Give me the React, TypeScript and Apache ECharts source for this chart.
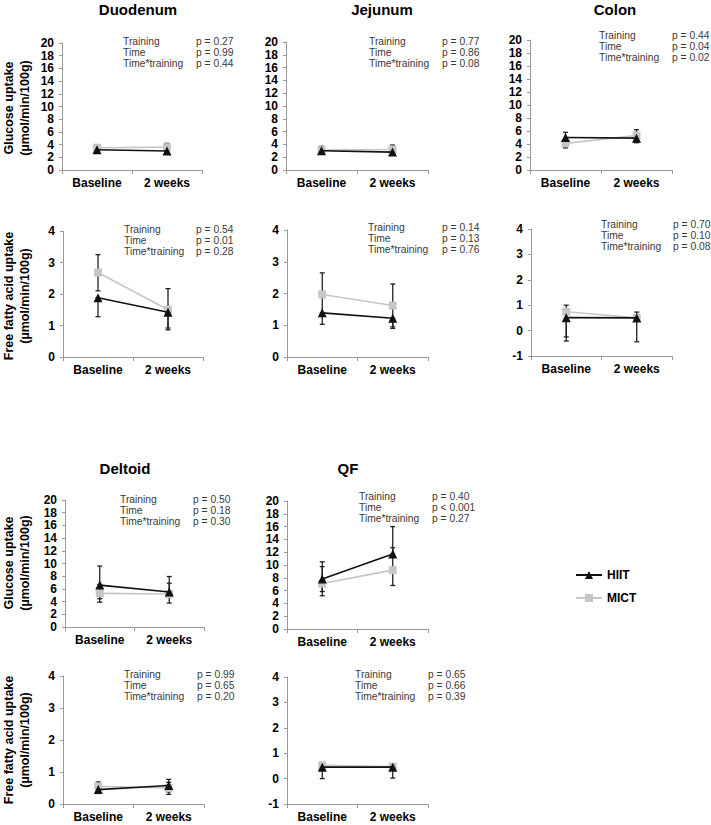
import React, { useEffect, useRef } from "react";
import * as echarts from "echarts";

// ---------- data ----------
const categories = ["Baseline", "2 weeks"];
const effectLabels = ["Training", "Time", "Time*training"];
const seriesNames = ["HIIT", "MICT"];

// Glucose uptake - Duodenum
const duoGluHIIT = [3.2, 3.0];
const duoGluMICT = [3.5, 3.6];
const duoGluHIITErr = [[2.8, 3.6], [2.6, 3.4]];
const duoGluMICTErr = [[3.0, 4.0], [3.0, 4.2]];
const duoGluP = ["p = 0.27", "p = 0.99", "p = 0.44"];

// Glucose uptake - Jejunum
const jejGluHIIT = [3.0, 2.8];
const jejGluMICT = [3.1, 3.2];
const jejGluHIITErr = [[2.5, 3.5], [2.5, 3.1]];
const jejGluMICTErr = [[2.6, 3.7], [2.6, 3.9]];
const jejGluP = ["p = 0.77", "p = 0.86", "p = 0.08"];

// Glucose uptake - Colon
const colGluHIIT = [5.0, 4.9];
const colGluMICT = [4.1, 5.3];
const colGluHIITErr = [[4.2, 5.8], [4.2, 5.6]];
const colGluMICTErr = [[3.4, 4.8], [4.6, 6.2]];
const colGluP = ["p = 0.44", "p = 0.04", "p = 0.02"];

// FFA uptake - Duodenum
const duoFfaHIIT = [1.88, 1.42];
const duoFfaMICT = [2.68, 1.5];
const duoFfaHIITErr = [[1.28, 1.88], [0.92, 1.42]];
const duoFfaMICTErr = [[2.1, 3.25], [0.86, 2.17]];
const duoFfaP = ["p = 0.54", "p = 0.01", "p = 0.28"];

// FFA uptake - Jejunum
const jejFfaHIIT = [1.39, 1.22];
const jejFfaMICT = [1.97, 1.62];
const jejFfaHIITErr = [[1.03, 1.39], [0.9, 1.22]];
const jejFfaMICTErr = [[1.29, 2.65], [0.95, 2.3]];
const jejFfaP = ["p = 0.14", "p = 0.13", "p = 0.76"];

// FFA uptake - Colon
const colFfaHIIT = [0.51, 0.5];
const colFfaMICT = [0.74, 0.5];
const colFfaHIITErr = [[-0.41, 0.51], [-0.44, 0.5]];
const colFfaMICTErr = [[-0.25, 1.0], [0.5, 0.73]];
const colFfaP = ["p = 0.70", "p = 0.10", "p = 0.08"];

// Glucose uptake - Deltoid
const delGluHIIT = [6.6, 5.5];
const delGluMICT = [5.3, 5.2];
const delGluHIITErr = [[4.45, 9.6], [5.5, 7.95]];
const delGluMICTErr = [[3.9, 6.7], [3.77, 6.9]];
const delGluP = ["p = 0.50", "p = 0.18", "p = 0.30"];

// Glucose uptake - QF
const qfGluHIIT = [7.8, 11.7];
const qfGluMICT = [7.1, 9.2];
const qfGluHIITErr = [[5.2, 10.5], [11.7, 16.0]];
const qfGluMICTErr = [[5.85, 9.75], [6.8, 12.7]];
const qfGluP = ["p = 0.40", "p < 0.001", "p = 0.27"];

// FFA uptake - Deltoid
const delFfaHIIT = [0.45, 0.58];
const delFfaMICT = [0.55, 0.5];
const delFfaHIITErr = [[0.33, 0.57], [0.38, 0.77]];
const delFfaMICTErr = [[0.41, 0.69], [0.3, 0.68]];
const delFfaP = ["p = 0.99", "p = 0.65", "p = 0.20"];

// FFA uptake - QF
const qfFfaHIIT = [0.45, 0.45];
const qfFfaMICT = [0.52, 0.47];
const qfFfaHIITErr = [[0.0, 0.45], [0.02, 0.45]];
const qfFfaMICTErr = [[0.33, 0.52], [0.33, 0.57]];
const qfFfaP = ["p = 0.65", "p = 0.66", "p = 0.39"];

const gluAxisTitle = "Glucose uptake\n(µmol/min/100g)";
const ffaAxisTitle = "Free fatty acid uptake\n(µmol/min/100g)";

// ---------- layout ----------
const panels = [
  { title: "Duodenum", tx: 138, ty: 9, g: [62, 43, 140, 127], y: [0, 20, 2], ax: 123, px: 196, ay: 41, h: duoGluHIIT, m: duoGluMICT, he: duoGluHIITErr, me: duoGluMICTErr, p: duoGluP, yt: gluAxisTitle, yty: 108 },
  { title: "Jejunum", tx: 382, ty: 9, g: [286, 42, 142, 128], y: [0, 20, 2], ax: 369, px: 442, ay: 41, h: jejGluHIIT, m: jejGluMICT, he: jejGluHIITErr, me: jejGluMICTErr, p: jejGluP },
  { title: "Colon", tx: 615, ty: 9, g: [530, 40, 142, 130], y: [0, 20, 2], ax: 599, px: 672, ay: 35, h: colGluHIIT, m: colGluMICT, he: colGluHIITErr, me: colGluMICTErr, p: colGluP },
  { g: [63, 231, 140, 126], y: [0, 4, 1], ax: 124, px: 196, ay: 229, h: duoFfaHIIT, m: duoFfaMICT, he: duoFfaHIITErr, me: duoFfaMICTErr, p: duoFfaP, yt: ffaAxisTitle, yty: 296 },
  { g: [287, 230, 141, 127], y: [0, 4, 1], ax: 368, px: 442, ay: 227, h: jejFfaHIIT, m: jejFfaMICT, he: jejFfaHIITErr, me: jejFfaMICTErr, p: jejFfaP },
  { g: [531, 229, 141, 127], y: [-1, 4, 1], ax: 601, px: 673, ay: 224, h: colFfaHIIT, m: colFfaMICT, he: colFfaHIITErr, me: colFfaMICTErr, p: colFfaP },
  { title: "Deltoid", tx: 125, ty: 468, g: [65, 500, 139, 127], y: [0, 20, 2], ax: 120, px: 193, ay: 499, h: delGluHIIT, m: delGluMICT, he: delGluHIITErr, me: delGluMICTErr, p: delGluP, yt: gluAxisTitle, yty: 563 },
  { title: "QF", tx: 348, ty: 468, g: [287, 501, 141, 128], y: [0, 20, 2], ax: 359, px: 432, ay: 496, h: qfGluHIIT, m: qfGluMICT, he: qfGluHIITErr, me: qfGluMICTErr, p: qfGluP },
  { g: [63, 676, 141, 128], y: [0, 4, 1], ax: 124, px: 197, ay: 674, h: delFfaHIIT, m: delFfaMICT, he: delFfaHIITErr, me: delFfaMICTErr, p: delFfaP, yt: ffaAxisTitle, yty: 740 },
  { g: [287, 677, 141, 127], y: [-1, 4, 1], ax: 355, px: 428, ay: 674, h: qfFfaHIIT, m: qfFfaMICT, he: qfFfaHIITErr, me: qfFfaMICTErr, p: qfFfaP },
];

const FONT = "Liberation Sans, Arial, Helvetica, sans-serif";
const HIIT_COLOR = "#111111";
const MICT_COLOR = "#c6c6c6";
const AXIS_COLOR = "#9a9a9a";

const errRender = (params: any, api: any) => {
  const x = api.value(0);
  const lo = api.coord([x, api.value(1)]);
  const hi = api.coord([x, api.value(2)]);
  const w = 2.5;
  const style = { stroke: "#222", lineWidth: 1.3 };
  return {
    type: "group",
    children: [
      { type: "line", shape: { x1: lo[0], y1: lo[1], x2: hi[0], y2: hi[1] }, style },
      { type: "line", shape: { x1: lo[0] - w, y1: lo[1], x2: lo[0] + w, y2: lo[1] }, style },
      { type: "line", shape: { x1: hi[0] - w, y1: hi[1], x2: hi[0] + w, y2: hi[1] }, style },
    ],
  };
};

function buildOption() {
  const grid: any[] = [];
  const xAxis: any[] = [];
  const yAxis: any[] = [];
  const series: any[] = [];
  const graphic: any[] = [];

  panels.forEach((pn: any, i) => {
    grid.push({ left: pn.g[0], top: pn.g[1], width: pn.g[2], height: pn.g[3] });
    xAxis.push({
      type: "category",
      gridIndex: i,
      data: categories,
      boundaryGap: true,
      position: "bottom",
      axisLine: { show: true, onZero: false, lineStyle: { color: AXIS_COLOR, width: 1 } },
      axisTick: { show: true, length: 4, lineStyle: { color: AXIS_COLOR } },
      axisLabel: { margin: 7, fontFamily: FONT, fontSize: 12, fontWeight: "bold", color: "#000" },
      splitLine: { show: false },
    });
    yAxis.push({
      type: "value",
      gridIndex: i,
      min: pn.y[0],
      max: pn.y[1],
      interval: pn.y[2],
      axisLine: { show: true, onZero: false, lineStyle: { color: AXIS_COLOR, width: 1 } },
      axisTick: { show: true, length: 3, lineStyle: { color: AXIS_COLOR } },
      axisLabel: { margin: 8, fontFamily: FONT, fontSize: 12, fontWeight: "bold", color: "#000" },
      splitLine: { show: false },
    });
    series.push({
      type: "custom",
      name: "errMICT" + i,
      xAxisIndex: i,
      yAxisIndex: i,
      renderItem: errRender,
      encode: { x: 0, y: [1, 2] },
      data: pn.me.map((e: number[], k: number) => [k, e[0], e[1]]),
      z: 1,
      silent: true,
    });
    series.push({
      type: "custom",
      name: "errHIIT" + i,
      xAxisIndex: i,
      yAxisIndex: i,
      renderItem: errRender,
      encode: { x: 0, y: [1, 2] },
      data: pn.he.map((e: number[], k: number) => [k, e[0], e[1]]),
      z: 1,
      silent: true,
    });
    series.push({
      type: "line",
      name: seriesNames[1],
      xAxisIndex: i,
      yAxisIndex: i,
      data: pn.m,
      symbol: "rect",
      symbolSize: 8,
      itemStyle: { color: MICT_COLOR },
      lineStyle: { color: MICT_COLOR, width: 1.6 },
      z: 2,
    });
    series.push({
      type: "line",
      name: seriesNames[0],
      xAxisIndex: i,
      yAxisIndex: i,
      data: pn.h,
      symbol: "triangle",
      symbolSize: 9,
      itemStyle: { color: HIIT_COLOR },
      lineStyle: { color: HIIT_COLOR, width: 1.6 },
      z: 3,
    });

    if (pn.title) {
      graphic.push({
        type: "text",
        x: pn.tx,
        y: pn.ty,
        silent: true,
        style: { text: pn.title, fontFamily: FONT, fontSize: 15, fontWeight: "bold", fill: "#000", align: "center", verticalAlign: "middle" },
      });
    }
    effectLabels.forEach((lab, k) => {
      graphic.push({
        type: "text",
        x: pn.ax,
        y: pn.ay + k * 11.3,
        silent: true,
        style: { text: lab, fontFamily: FONT, fontSize: 10.3, fill: "#3a3a3a", align: "left", verticalAlign: "middle" },
      });
      graphic.push({
        type: "text",
        x: pn.px,
        y: pn.ay + k * 11.3,
        silent: true,
        style: { text: pn.p[k], fontFamily: FONT, fontSize: 10.3, fill: "#3a3a3a", align: "left", verticalAlign: "middle" },
      });
    });
    if (pn.yt) {
      graphic.push({
        type: "text",
        x: 17,
        y: pn.yty,
        rotation: Math.PI / 2,
        silent: true,
        style: { text: pn.yt, fontFamily: FONT, fontSize: 12.5, fontWeight: "bold", fill: "#000", align: "center", verticalAlign: "middle", lineHeight: 16 },
      });
    }
  });

  return {
    animation: false,
    backgroundColor: "#ffffff",
    grid,
    xAxis,
    yAxis,
    series,
    graphic,
    legend: {
      orient: "vertical",
      left: 575,
      top: 569,
      padding: 0,
      itemWidth: 26,
      itemHeight: 10,
      itemGap: 11,
      data: seriesNames,
      textStyle: { fontFamily: FONT, fontSize: 12, fontWeight: "bold", color: "#000" },
    },
  };
}

export default function App() {
  const ref = useRef<HTMLDivElement>(null);
  useEffect(() => {
    if (!ref.current) return;
    const chart = echarts.init(ref.current, undefined, { renderer: "svg" });
    chart.setOption(buildOption() as any);
    return () => chart.dispose();
  }, []);
  return (
    <div
      ref={ref}
      style={{ position: "absolute", left: 0, top: 0, width: 711, height: 825, background: "#fff" }}
    />
  );
}
